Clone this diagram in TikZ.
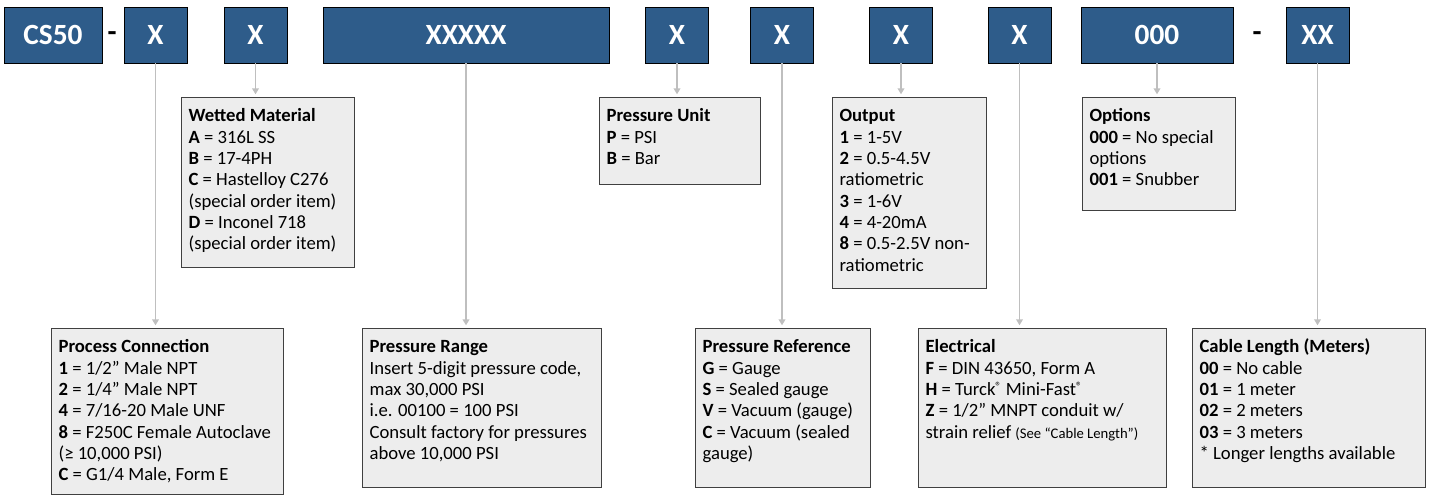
\documentclass[tikz,border=0pt]{standalone}
\usepackage{fontspec}
\setmainfont{Carlito}
\usetikzlibrary{arrows.meta}
\definecolor{codeblue}{HTML}{2E5C8A}
\definecolor{infogray}{HTML}{EDEDED}
\definecolor{linegray}{HTML}{BFBFBF}
\tikzstyle{codebox} = [rectangle, 
minimum height=42pt,
text centered, 
draw=black, 
fill=codeblue,
text=white,
font=\fontsize{22pt}{24pt}\selectfont\bfseries]
\tikzstyle{joiner} = [rectangle,
inner sep=0pt,
font=\fontsize{22pt}{24pt}\selectfont\bfseries]
\tikzstyle{infobox} = [rectangle, 
anchor=north west,
inner sep=0pt,
draw=black!75, 
fill=infogray]
\tikzstyle{arrow} = [line width=1.1pt, draw=linegray, -{Triangle[width=5pt,length=4.5pt]}, shorten >=2pt]
% width, height, text of a description box
\newcommand{\spectext}[3]{\parbox[t][#2][t]{#1}{\fontsize{14pt}{16pt}\selectfont
\raggedright\leftskip=5.5pt\parindent=0pt\rule{0pt}{18.5pt}#3}}
\newcommand{\regmark}{\raisebox{0.55ex}{\fontsize{9pt}{9pt}\selectfont ®}}

\begin{document}
\begin{tikzpicture}[x=0.75pt, y=-0.75pt]
\useasboundingbox (0,0) rectangle (1429,496);
% part number
\node (cs) [codebox, minimum width=73.5pt] at (53,35) {CS50};
\node (dashA) [joiner] at (112,37) {-};
\node (conn) [codebox, minimum width=47.25pt] at (155.5,35) {X};
\node (mat) [codebox, minimum width=47.25pt] at (255.5,35) {X};
\node (range) [codebox, minimum width=214.5pt] at (466,35) {XXXXX};
\node (unit) [codebox, minimum width=47.25pt] at (677,35) {X};
\node (ref) [codebox, minimum width=47.25pt] at (782,35) {X};
\node (out) [codebox, minimum width=47.25pt] at (901,35) {X};
\node (elec) [codebox, minimum width=47.25pt] at (1019.5,35) {X};
\node (opt) [codebox, minimum width=114pt] at (1157,35) {000};
\node (dashB) [joiner] at (1257,37) {-};
\node (cable) [codebox, minimum width=47.25pt] at (1317.5,35) {XX};

% upper descriptions
\node (matInfo) [infobox] at (181,97) {\spectext{129.75pt}{127.5pt}{%
\textbf{Wetted Material}\\
\textbf{A} = 316L SS\\
\textbf{B} = 17-4PH\\
\textbf{C} = Hastelloy C276\\
(special order item)\\
\textbf{D} = Inconel 718\\
(special order item)}};
\node (unitInfo) [infobox] at (599,97) {\spectext{120.75pt}{65.25pt}{%
\textbf{Pressure Unit}\\
\textbf{P} = PSI\\
\textbf{B} = Bar}};
\node (outInfo) [infobox] at (832,97) {\spectext{115.5pt}{143.25pt}{%
\textbf{Output}\\
\textbf{1} = 1-5V\\
\textbf{2} = 0.5-4.5V\\
ratiometric\\
\textbf{3} = 1-6V\\
\textbf{4} = 4-20mA\\
\textbf{8} = 0.5-2.5V non-\\
ratiometric}};
\node (optInfo) [infobox] at (1082,97) {\spectext{114.75pt}{84.75pt}{%
\textbf{Options}\\
\textbf{000} = No special\\
options\\
\textbf{001} = Snubber}};

% lower descriptions
\node (connInfo) [infobox] at (51,328) {\spectext{174pt}{124.5pt}{%
\textbf{Process Connection}\\
\textbf{1} = 1/2” Male NPT\\
\textbf{2} = 1/4” Male NPT\\
\textbf{4} = 7/16-20 Male UNF\\
\textbf{8} = F250C Female Autoclave\\
(≥ 10,000 PSI)\\
\textbf{C} = G1/4 Male, Form E}};
\node (rangeInfo) [infobox] at (362,328) {\spectext{179.25pt}{119.25pt}{%
\textbf{Pressure Range}\\
Insert 5-digit pressure code,\\
max 30,000 PSI\\
i.e. 00100 = 100 PSI\\
Consult factory for pressures\\
above 10,000 PSI}};
\node (refInfo) [infobox] at (695,328) {\spectext{131.25pt}{119.25pt}{%
\textbf{Pressure Reference}\\
\textbf{G} = Gauge\\
\textbf{S} = Sealed gauge\\
\textbf{V} = Vacuum (gauge)\\
\textbf{C} = Vacuum (sealed\\
gauge)}};
\node (elecInfo) [infobox] at (918,328) {\spectext{186pt}{119.25pt}{%
\textbf{Electrical}\\
\textbf{F} = DIN 43650, Form A\\
\textbf{H} = Turck\regmark{} Mini-Fast\regmark\\
\textbf{Z} = 1/2” MNPT conduit w/\\
strain relief {\fontsize{11pt}{16pt}\selectfont (See “Cable Length”)}}};
\node (cableInfo) [infobox] at (1192,328) {\spectext{174.75pt}{119.25pt}{%
\textbf{Cable Length (Meters)}\\
\textbf{00} = No cable\\
\textbf{01} = 1 meter\\
\textbf{02} = 2 meters\\
\textbf{03} = 3 meters\\
{*} Longer lengths available}};

\draw [arrow] (mat) -- (mat |- matInfo.north);
\draw [arrow] (unit) -- (unit |- unitInfo.north);
\draw [arrow] (out) -- (out |- outInfo.north);
\draw [arrow] (opt) -- (opt |- optInfo.north);
\draw [arrow] (conn) -- (conn |- connInfo.north);
\draw [arrow] (range) -- (range |- rangeInfo.north);
\draw [arrow] (ref) -- (ref |- refInfo.north);
\draw [arrow] (elec) -- (elec |- elecInfo.north);
\draw [arrow] (cable) -- (cable |- cableInfo.north);
\end{tikzpicture}
\end{document}
